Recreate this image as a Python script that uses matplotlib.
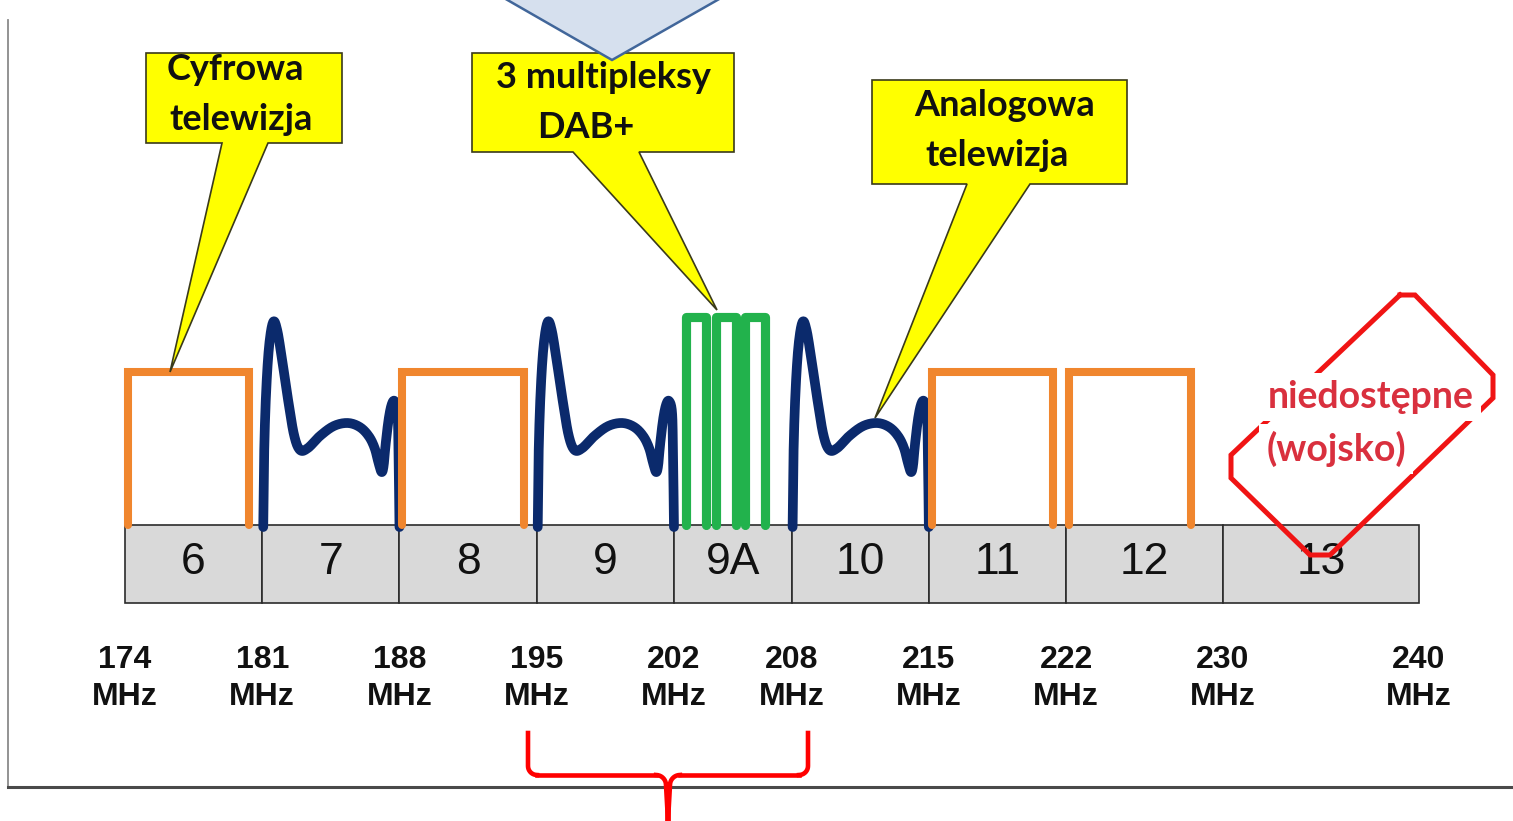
import matplotlib.pyplot as plt
import numpy as np
from matplotlib.patches import Polygon, Rectangle

# kanały pasma III i ich granice (MHz)
channels = ['6', '7', '8', '9', '9A', '10', '11', '12', '13']
edges_mhz = [174, 181, 188, 195, 202, 208, 215, 222, 230, 240]
usage = ['cyfrowa', 'analogowa', 'cyfrowa', 'analogowa', 'dab',
         'analogowa', 'cyfrowa', 'cyfrowa', 'wojsko']
freq_labels = ['174', '181', '188', '195', '202', '208', '215', '222', '230', '240']
dab_blocks_mhz = [202.63, 204.13, 205.64]   # początki 3 multipleksów w 9A
dab_block_width = 1.02
tv_bandwidth = 6.2                           # szerokość "pudełka" TV cyfrowej

# kształt sygnału analogowego: (pozycja w kanale /138, poziom)
wave_frac = np.array([1, 2, 4, 7, 11, 15, 20, 26, 32, 38, 46, 58, 72, 86, 98, 107,
                      113, 117, 120, 122, 124, 127, 130, 133, 136, 137, 138]) / 138
wave_lvl = np.array([527, 450, 390, 345, 322, 330, 360, 400, 435, 450, 448, 436,
                     426, 423, 427, 436, 448, 463, 472, 466, 445, 420, 405, 401,
                     412, 450, 527])


def smooth(x, y, n=10):
    # Catmull-Rom przez punkty kształtu
    pts = np.column_stack([x, y])
    p = np.vstack([pts[0], pts, pts[-1]])
    t = np.linspace(0, 1, n, endpoint=False)[:, None]
    out = []
    for i in range(1, len(p) - 2):
        p0, p1, p2, p3 = p[i - 1], p[i], p[i + 1], p[i + 2]
        out.append(0.5 * (2 * p1 + (p2 - p0) * t + (2 * p0 - 5 * p1 + 4 * p2 - p3) * t ** 2
                          + (3 * p1 - p0 - 3 * p2 + p3) * t ** 3))
    out.append(pts[-1:])
    s = np.vstack(out)
    return s[:, 0], s[:, 1]


W, H = 1513, 821
fig = plt.figure(figsize=(W / 100, H / 100), dpi=100)
fig.patch.set_facecolor('white')

# oś danych: x w MHz (174 -> 125 px, 240 -> 1419 px), y w "pikselach"
px_per_mhz = (1419 - 125) / 66
ax = fig.add_axes([0, 0, 1, 1])
ax.set_xlim(174 - 125 / px_per_mhz, 174 + (W - 125) / px_per_mhz)
ax.set_ylim(H, 0)
ax.axis('off')

BOX_TOP, BOX_BOT = 525, 603
for i, ch in enumerate(channels):
    x0, x1 = edges_mhz[i], edges_mhz[i + 1]
    ax.add_patch(Rectangle((x0, BOX_TOP), x1 - x0, BOX_BOT - BOX_TOP,
                           facecolor='#d9d9d9', edgecolor='#2b2b2b', lw=1.2, zorder=1))
    ax.text((x0 + x1) / 2, 562, ch, ha='center', va='center', fontsize=32,
            family='Liberation Sans', color='#111111', zorder=2)

    kind = usage[i]
    if kind == 'cyfrowa':
        a, b = x0 + 0.15, x0 + 0.15 + tv_bandwidth
        ax.plot([a, a, b, b], [BOX_TOP, 372, 372, BOX_TOP], color='#f0862e',
                lw=5.8, solid_joinstyle='miter', solid_capstyle='round', zorder=3)
    elif kind == 'analogowa':
        sx, sy = smooth(wave_frac, wave_lvl)
        ax.plot(x0 + sx * 7, sy, color='#0b2a6c', lw=7,
                solid_joinstyle='round', solid_capstyle='round', zorder=3)
    elif kind == 'dab':
        for s in dab_blocks_mhz:
            ax.plot([s, s, s + dab_block_width, s + dab_block_width],
                    [BOX_TOP, 317, 317, BOX_TOP], color='#22b24c', lw=6.6,
                    solid_joinstyle='round', solid_capstyle='round', zorder=3)

for f, lab in zip(edges_mhz, freq_labels):
    ax.text(f, 660, lab, ha='center', va='center', fontsize=23, fontweight='bold',
            family='Liberation Sans', color='#111111')
    ax.text(f, 697, 'MHz', ha='center', va='center', fontsize=23, fontweight='bold',
            family='Liberation Sans', color='#111111')

# warstwa opisów (współrzędne w pikselach)
deco = fig.add_axes([0, 0, 1, 1])
deco.set_xlim(0, W)
deco.set_ylim(H, 0)
deco.axis('off')
deco.patch.set_alpha(0)

deco.plot([8, 8], [20, 787], color='#8a8a8a', lw=1.3)
deco.plot([8, W], [787, 787], color='#4a4a4a', lw=2.2)


def callout(box, base, tip, lines, centers):
    x0, y0, x1, y1 = box
    pts = [(x0, y0), (x1, y0), (x1, y1), (base[1], y1), tip, (base[0], y1), (x0, y1)]
    deco.add_patch(Polygon(pts, closed=True, facecolor='#ffff00', edgecolor='#3a3a1a',
                           lw=1.2, zorder=4))
    for txt, (cx, cy) in zip(lines, centers):
        deco.text(cx, cy, txt, ha='center', va='center', fontsize=26, fontweight='bold',
                  family='Lato', color='#111111', zorder=5)


callout((146, 53, 342, 143), (222, 268), (170, 372),
        ['Cyfrowa', 'telewizja'], [(235, 70), (241, 120)])
callout((472, 53, 734, 152), (573, 639), (717, 310),
        ['3 multipleksy', 'DAB+'], [(603, 78), (586, 127)])
callout((872, 80, 1127, 184), (967, 1030), (875, 418),
        ['Analogowa', 'telewizja'], [(1005, 105), (997, 156)])

# strzałka u góry
deco.add_patch(Polygon([(497, -6), (612, 60), (728, -6)], closed=True,
                       facecolor='#d6e0ee', edgecolor='#41669a', lw=1.8, zorder=6))

# ośmiokąt "niedostępne"
octo = [(1400, 295), (1415, 295), (1493, 375), (1493, 398), (1330, 555),
        (1310, 555), (1231, 478), (1231, 455), (1400, 295)]
deco.plot(*zip(*octo), color='#f01414', lw=3.6, solid_joinstyle='miter', zorder=6)
bb = dict(facecolor='white', edgecolor='none', pad=5)
deco.text(1371, 397, 'niedostępne', ha='center', va='center', fontsize=27,
          fontweight='bold', family='Lato', color='#d9303e', bbox=bb, zorder=7)
deco.text(1336, 449, '(wojsko)', ha='center', va='center', fontsize=27,
          fontweight='bold', family='Lato', color='#d9303e', bbox=bb, zorder=7)

# klamra pod 195-208 MHz
red = '#ff0000'
q = np.linspace(0, np.pi / 2, 10)
deco.plot(np.r_[528, 528 + 9 * (1 - np.cos(q))], np.r_[733, 766 + 9 * np.sin(q)],
          color=red, lw=3.3, zorder=6)
deco.plot(np.r_[808, 808 - 9 * (1 - np.cos(q))], np.r_[733, 766 + 9 * np.sin(q)],
          color=red, lw=3.3, zorder=6)
deco.plot([537, 656], [775, 775], color=red, lw=3.3, zorder=6)
deco.plot([680, 799], [775, 775], color=red, lw=3.3, zorder=6)
deco.plot(np.r_[656 + 10 * np.sin(q), 668], np.r_[775 + 10 * (1 - np.cos(q)), 821],
          color=red, lw=3.3, zorder=6)
deco.plot(np.r_[680 - 10 * np.sin(q), 668], np.r_[775 + 10 * (1 - np.cos(q)), 821],
          color=red, lw=3.3, zorder=6)
deco.plot([668, 668], [785, 821], color=red, lw=4, zorder=6)

fig.savefig('out.png', dpi=100, facecolor='white')
